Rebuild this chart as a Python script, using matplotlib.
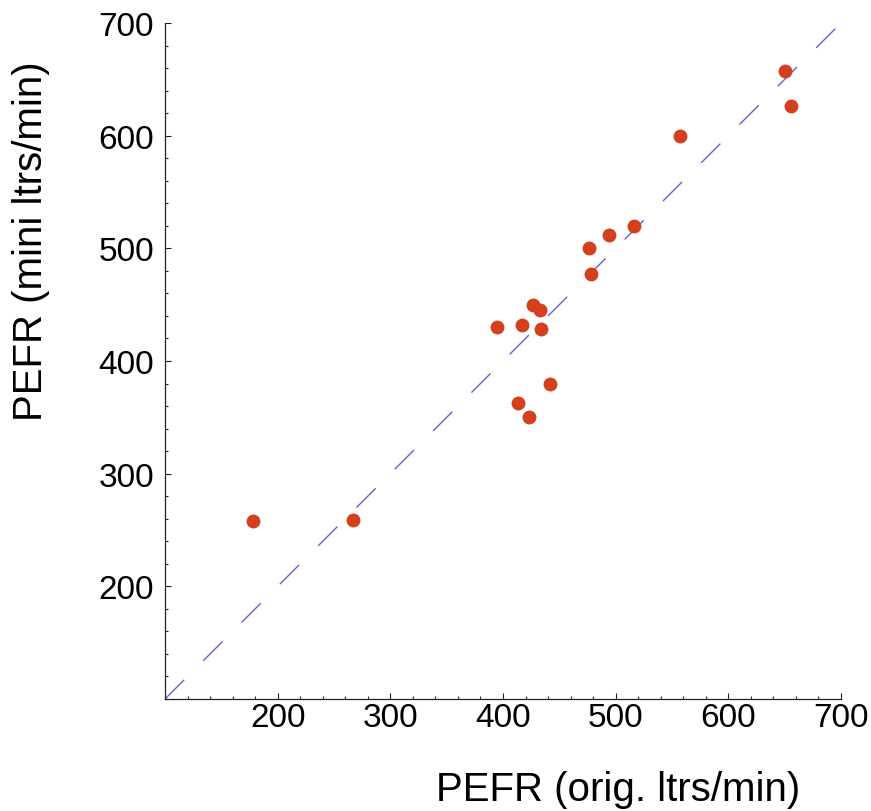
import matplotlib
matplotlib.use("Agg")
import matplotlib.pyplot as plt
import numpy as np

plt.rcParams['font.family'] = ['Liberation Sans', 'DejaVu Sans']

# PEFR readings: original meter vs mini meter (ltrs/min)
pefr_orig = [178, 267, 395, 417, 427, 433, 434, 442, 413, 423,
             476, 478, 494, 516, 557, 650, 656]
pefr_mini = [258, 259, 430, 432, 450, 445, 428, 380, 363, 350,
             500, 477, 512, 520, 600, 657, 626]
line_of_equality = [100, 700]
major_ticks = [200, 300, 400, 500, 600, 700]

fig = plt.figure(figsize=(8.71, 8.12), dpi=100)
ax = fig.add_axes([165 / 871, 1 - 700 / 812, 676 / 871, 676 / 812])

ax.plot(line_of_equality, line_of_equality, color='#6a5adc', lw=1.0,
        dashes=(19.5, 19.5), zorder=1)
ax.plot(pefr_orig, pefr_mini, 'o', color='#d4401e', ms=10, mec='none',
        clip_on=False, zorder=2)

ax.set_xlim(100, 700)
ax.set_ylim(100, 700)
ax.set_xticks(major_ticks)
ax.set_yticks(major_ticks)
ax.set_xticks(np.arange(100, 701, 20), minor=True)
ax.set_yticks(np.arange(100, 701, 20), minor=True)

for side in ['top', 'right']:
    ax.spines[side].set_visible(False)
for side in ['left', 'bottom']:
    ax.spines[side].set_linewidth(0.9)
    ax.spines[side].set_color('#222222')

ax.tick_params(which='major', direction='in', length=4, width=0.8,
               color='#222222', labelsize=24)
ax.tick_params(which='minor', direction='in', length=2.4, width=0.8,
               color='#222222')
ax.tick_params(axis='x', which='major', pad=2)
ax.tick_params(axis='y', which='major', pad=8)

fig.text(0.710, 0.0265, 'PEFR (orig. ltrs/min)', fontsize=29,
         ha='center', va='center')
fig.text(0.036, 0.703, 'PEFR (mini ltrs/min)', fontsize=29,
         ha='center', va='center', rotation=90)

fig.savefig('out.png', dpi=100)
